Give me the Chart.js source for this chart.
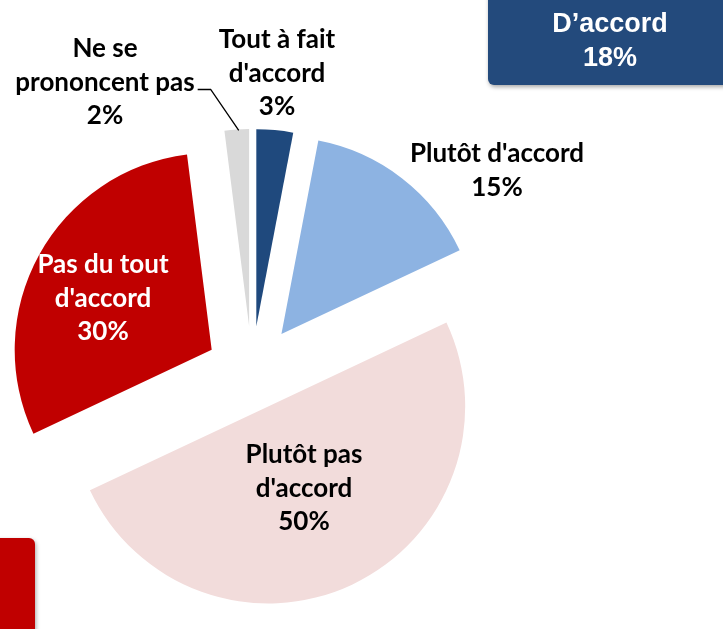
<!DOCTYPE html>
<html lang="fr">
<head>
<meta charset="utf-8">
<script src="https://cdn.jsdelivr.net/npm/chart.js@4.4.1/dist/chart.umd.min.js"></script>
<style>
  html, body { margin: 0; padding: 0; background: #fff; }
  #wrap { position: relative; width: 723px; height: 629px; overflow: hidden; }
</style>
</head>
<body>
<div id="wrap"><canvas id="pieChart" width="723" height="629"></canvas></div>
<script>
const categories = ["Tout à fait d'accord", "Plutôt d'accord", "Plutôt pas d'accord", "Pas du tout d'accord", "Ne se prononcent pas"];
const values = [3, 15, 50, 30, 2];
const sliceColors = ['#1F497D', '#8DB3E2', '#F2DCDB', '#C00000', '#D9D9D9'];
const labelLines = [
    ['Tout à fait', "d'accord", '3%'],
    ["Plutôt d'accord", '15%'],
    ['Plutôt pas', "d'accord", '50%'],
    ['Pas du tout', "d'accord", '30%'],
    ['Ne se', 'prononcent pas', '2%']
];
const summaryLines = ['D’accord', '18%'];

// how far each slice is pulled out of the pie (px)
const explode = [46, 48, 38, 46, 46];
// label anchor from the pie centre: [dx, dy of first baseline]
const labelAt = [[25, -324], [245, -210], [52, 91], [-149, -99], [-147, -315]];
const labelColor = ['#000', '#000', '#000', '#fff', '#000'];

function roundBox(ctx, x, y, w, h, r) {
    ctx.beginPath();
    ctx.moveTo(x + r, y);
    ctx.arcTo(x + w, y, x + w, y + h, r);
    ctx.arcTo(x + w, y + h, x, y + h, r);
    ctx.arcTo(x, y + h, x, y, r);
    ctx.arcTo(x, y, x + w, y, r);
    ctx.closePath();
}

// draw each arc shifted out along its middle angle
const explodePlugin = {
    id: 'explode',
    beforeDatasetDraw(chart, args) {
        const ctx = chart.ctx;
        args.meta.data.forEach((arc, i) => {
            const mid = (arc.startAngle + arc.endAngle) / 2;
            ctx.save();
            ctx.translate(Math.cos(mid) * explode[i], Math.sin(mid) * explode[i]);
            arc.draw(ctx);
            ctx.restore();
        });
        return false;
    }
};

const labelPlugin = {
    id: 'sliceLabels',
    afterDatasetsDraw(chart) {
        const ctx = chart.ctx;
        const arcs = chart.getDatasetMeta(0).data;
        const cx = arcs[0].x, cy = arcs[0].y;

        ctx.save();
        ctx.font = 'bold 26px Lato';
        ctx.textAlign = 'center';
        ctx.textBaseline = 'alphabetic';
        labelLines.forEach((lines, i) => {
            ctx.fillStyle = labelColor[i];
            lines.forEach((t, k) => {
                ctx.fillText(t, cx + labelAt[i][0], cy + labelAt[i][1] + k * 33.5);
            });
        });

        // leader line for the small grey slice
        const g = arcs[4];
        const mid = (g.startAngle + g.endAngle) / 2;
        const reach = g.outerRadius + explode[4];
        const w = ctx.measureText(labelLines[4][1]).width;
        const sx = cx + labelAt[4][0] + w / 2 + 3;
        const sy = cy + labelAt[4][1] + 33.5 - 1;
        ctx.strokeStyle = '#000';
        ctx.lineWidth = 1.3;
        ctx.beginPath();
        ctx.moveTo(sx, sy);
        ctx.lineTo(sx + 13, sy);
        ctx.lineTo(cx + Math.cos(mid) * reach + 2, cy + Math.sin(mid) * reach + 1);
        ctx.stroke();

        // summary box, top right
        ctx.shadowColor = 'rgba(0,0,0,0.35)';
        ctx.shadowBlur = 4;
        ctx.shadowOffsetX = 1;
        ctx.shadowOffsetY = 2;
        ctx.fillStyle = '#234A7C';
        roundBox(ctx, 488, -12, 260, 97, 6);
        ctx.fill();
        // red box, bottom left
        ctx.fillStyle = '#C00000';
        roundBox(ctx, -12, 538, 47, 110, 6);
        ctx.fill();
        ctx.shadowColor = 'transparent';

        ctx.fillStyle = '#fff';
        ctx.font = 'bold 27px "Liberation Sans"';
        ctx.fillText(summaryLines[0], 610, 32);
        ctx.fillText(summaryLines[1], 610, 66);
        ctx.restore();
    }
};

const pieCtx = document.getElementById('pieChart').getContext('2d');
const pieChart = new Chart(pieCtx, {
    type: 'pie',
    data: {
        labels: categories,
        datasets: [{
            data: values,
            backgroundColor: sliceColors,
            borderWidth: 0,
            offset: 0,
            hoverOffset: 0,
            radius: 197
        }]
    },
    options: {
        responsive: false,
        animation: false,
        events: [],
        layout: { padding: { left: 0, right: 219, top: 115, bottom: 0 } },
        plugins: {
            legend: { display: false },
            tooltip: { enabled: false }
        }
    },
    plugins: [explodePlugin, labelPlugin]
});
</script>
</body>
</html>
